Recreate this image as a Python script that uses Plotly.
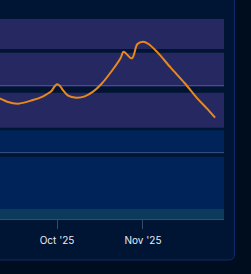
import plotly.graph_objects as go

# ---- data ----
dates = ["2025-09-07", "2025-09-10", "2025-09-13", "2025-09-17", "2025-09-22", "2025-09-26",
         "2025-09-28", "2025-09-29", "2025-09-30", "2025-10-01", "2025-10-02", "2025-10-03",
         "2025-10-05", "2025-10-08",
         "2025-10-11", "2025-10-14", "2025-10-17", "2025-10-21", "2025-10-24", "2025-10-25",
         "2025-10-28", "2025-10-30", "2025-11-01", "2025-11-03", "2025-11-06", "2025-11-11",
         "2025-11-16", "2025-11-21", "2025-11-24", "2025-11-27"]
values = [1.86, 1.815, 1.76, 1.73, 1.78, 1.84,
          1.89, 1.92, 1.98, 2.02, 2.0, 1.94,
          1.85, 1.82,
          1.84, 1.91, 2.025, 2.235, 2.42, 2.51,
          2.41, 2.625, 2.66, 2.625, 2.51, 2.27,
          2.04, 1.79, 1.66, 1.52]

band_lo = [2.55, 1.985, 1.37, 0.98, 0.15, 0.0]
band_hi = [3.0, 2.495, 1.895, 1.33, 0.935, 0.15]
band_colors = ["#262861", "#262861", "#262861", "#00235a", "#00235a", "#0b3a5c"]

tick_vals = ["2025-10-01", "2025-11-01"]
tick_text = ["Oct '25", "Nov '25"]

x_range = ["2025-09-10 10:48", "2025-11-30 05:00"]
y_range = [0, 3]

CARD = "#001433"
OUTER = "#000d1f"
BORDER = "#0c2c6e"

fig = go.Figure()
fig.add_trace(go.Scatter(
    x=dates, y=values, mode="lines",
    line=dict(color="#e8891c", width=2, shape="spline", smoothing=0.9),
    hoverinfo="skip", showlegend=False,
))

shapes = []
for lo, hi, c in zip(band_lo, band_hi, band_colors):
    shapes.append(dict(type="rect", xref="paper", yref="y", x0=0, x1=1, y0=lo, y1=hi,
                       fillcolor=c, line=dict(width=0), layer="below"))

# card edge (outer area + border) in paper coordinates
W_PLOT, H_PLOT = 224.0, 200.0
cx = 234.5 / W_PLOT
cy = -(260 - 219) / H_PLOT
rx, ry = 6 / W_PLOT, 6 / H_PLOT
outer_path = (f"M {cx},1.3 L {cx},{cy + ry} Q {cx},{cy} {cx - rx},{cy} L -0.2,{cy} "
              f"L -0.2,-0.5 L 1.3,-0.5 L 1.3,1.3 Z")
shapes.append(dict(type="path", xref="paper", yref="paper", path=outer_path,
                   fillcolor=OUTER, line=dict(width=0), layer="above"))
border_path = f"M {cx},1.3 L {cx},{cy + ry} Q {cx},{cy} {cx - rx},{cy} L -0.2,{cy}"
shapes.append(dict(type="path", xref="paper", yref="paper", path=border_path,
                   line=dict(color=BORDER, width=1), layer="above"))

fig.update_layout(
    width=251, height=274,
    margin=dict(l=0, r=27, t=19, b=55),
    paper_bgcolor=CARD, plot_bgcolor=CARD,
    shapes=shapes,
    xaxis=dict(range=x_range, type="date", showgrid=False, zeroline=False,
               showline=True, linecolor="rgba(120,140,170,0.45)", linewidth=1,
               ticks="outside", ticklen=9, tickcolor="rgba(120,140,170,0.45)", tickwidth=1,
               tickvals=tick_vals, ticktext=tick_text, ticklabelstandoff=3,
               tickfont=dict(family="Inter", size=10, color="#e6ecf5")),
    yaxis=dict(range=y_range, showgrid=True, gridcolor="rgba(140,150,200,0.35)", gridwidth=1,
               tickvals=[1, 2], showticklabels=False, zeroline=False, showline=False, ticks=""),
)

fig.write_html("out.html")
